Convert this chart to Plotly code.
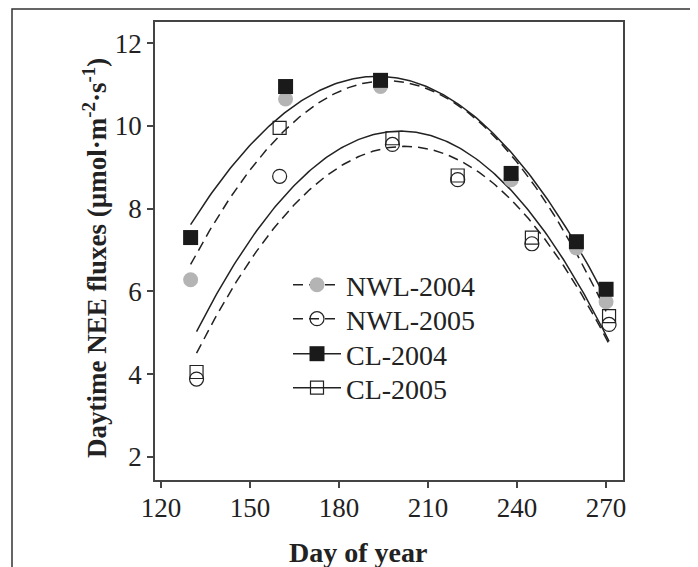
import numpy as np
import plotly.graph_objects as go

# ---- data ----
days_2004 = [130, 162, 194, 238, 260, 270]
days_2005 = [132, 160, 198, 220, 245, 271]
nwl_2004 = [6.28, 10.65, 10.95, 8.70, 7.05, 5.75]
nwl_2005 = [3.88, 8.78, 9.55, 8.70, 7.15, 5.20]
cl_2004 = [7.30, 10.95, 11.10, 8.85, 7.20, 6.05]
cl_2005 = [4.05, 9.95, 9.70, 8.80, 7.30, 5.40]

x_ticks = [120, 150, 180, 210, 240, 270]
y_ticks = [2, 4, 6, 8, 10, 12]

FONT = "Liberation Serif"
INK = "#222222"
GRAY = "#b4b4b4"

series = [
    dict(name="NWL-2004", x=days_2004, y=nwl_2004, dash="10px,6px",
         marker=dict(symbol="circle", size=15, color=GRAY, line=dict(width=0))),
    dict(name="NWL-2005", x=days_2005, y=nwl_2005, dash="10px,6px",
         marker=dict(symbol="circle-open", size=14, color=INK, line=dict(width=1.2))),
    dict(name="CL-2004", x=days_2004, y=cl_2004, dash="solid",
         marker=dict(symbol="square", size=15, color="#1a1a1a", line=dict(width=0))),
    dict(name="CL-2005", x=days_2005, y=cl_2005, dash="solid",
         marker=dict(symbol="square-open", size=13, color=INK, line=dict(width=1.2))),
]

# page body has an 8px margin; figure is sized to fit the window
OFF = 8
W, H = 698 - OFF, 567 - OFF
L, R, T, B = 155 - OFF, 75, 22 - OFF, 87
pw, ph = W - L - R, H - T - B


def px(xp):  # reference window pixel -> paper x
    return (xp - OFF - L) / pw


def py(yp):  # reference window pixel -> paper y
    return (H - B - (yp - OFF)) / ph


fig = go.Figure()

# quadratic fitted curves (regression through the data)
for s in series:
    coef = np.polyfit(s["x"], s["y"], 2)
    xs = np.linspace(s["x"][0], s["x"][-1], 200)
    fig.add_trace(go.Scatter(x=xs, y=np.polyval(coef, xs), mode="lines",
                             line=dict(color=INK, width=1.5, dash=s["dash"]),
                             showlegend=False, hoverinfo="skip"))

# data points
for s in series:
    fig.add_trace(go.Scatter(x=s["x"], y=s["y"], mode="markers",
                             marker=s["marker"], showlegend=False, name=s["name"]))

# legend entries (line + marker), one legend per row for exact spacing
row_y = [285, 319, 354, 388]
legend_names = ["legend", "legend2", "legend3", "legend4"]
legend_layout = {}
for s, ry, lg in zip(series, row_y, legend_names):
    fig.add_trace(go.Scatter(x=[None], y=[None], mode="lines+markers", name=s["name"],
                             line=dict(color=INK, width=1.5, dash=s["dash"]),
                             marker=s["marker"], legend=lg))
    legend_layout[lg] = dict(x=px(288), y=py(ry), xanchor="left", yanchor="middle",
                             bgcolor="rgba(0,0,0,0)", borderwidth=0,
                             font=dict(family=FONT, size=28, color=INK),
                             itemwidth=48)

fig.update_layout(
    width=W, height=H,
    margin=dict(l=L, r=R, t=T, b=B, pad=0),
    paper_bgcolor="white", plot_bgcolor="white",
    font=dict(family=FONT, color=INK, size=27),
    showlegend=True,
    shapes=[dict(type="rect", xref="paper", yref="paper",
                 x0=px(12), x1=px(693), y0=py(620), y1=py(9),
                 line=dict(color="#333333", width=1.5), fillcolor="rgba(0,0,0,0)")],
    annotations=[
        dict(text="<b>Day of year</b>", xref="paper", yref="paper",
             x=px(358), y=py(552), xanchor="center", yanchor="middle",
             showarrow=False, font=dict(family=FONT, size=28, color=INK)),
        dict(text="<b>Daytime NEE fluxes (µmol·m<sup>-2</sup>·s<sup>-1</sup>)</b>",
             xref="paper", yref="paper", x=px(95), y=py(258),
             xanchor="center", yanchor="middle", textangle=-90,
             showarrow=False, font=dict(family=FONT, size=27, color=INK)),
    ],
    **legend_layout,
)

fig.update_xaxes(range=[118.0, 275.7], tickvals=x_ticks, ticks="outside", ticklen=6,
                 tickwidth=1.5, tickcolor="#444444", showline=True, linewidth=1.5,
                 linecolor="#444444", mirror=True, showgrid=False, zeroline=False,
                 ticklabelstandoff=-3,
                 tickfont=dict(family=FONT, size=27, color=INK))
fig.update_yaxes(range=[1.44, 12.51], tickvals=y_ticks, ticks="outside", ticklen=6,
                 tickwidth=1.5, tickcolor="#444444", showline=True, linewidth=1.5,
                 linecolor="#444444", mirror=True, showgrid=False, zeroline=False,
                 tickfont=dict(family=FONT, size=27, color=INK))

fig.write_html("out.html")
